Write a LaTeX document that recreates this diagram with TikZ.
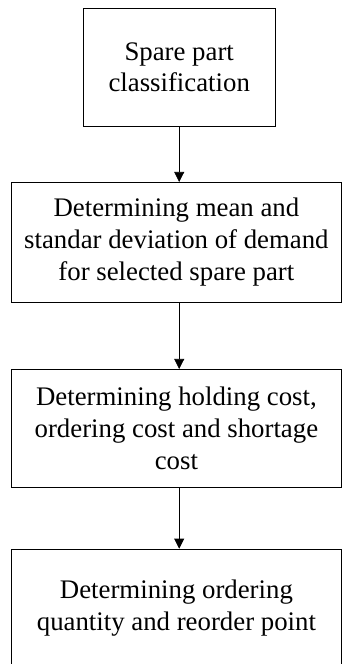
\documentclass[tikz,border=0pt]{standalone}
\usepackage{fontspec}
\setmainfont{Liberation Serif}
\usetikzlibrary{arrows.meta}
\tikzset{
  stepbox/.style={draw, line width=0.7pt, minimum height=119pt, align=center,
    inner sep=0pt, font=\fontsize{26.8}{32}\selectfont},
  flow/.style={line width=0.7pt, -{Triangle[length=10pt,width=10pt]}}
}
\begin{document}
\begin{tikzpicture}[x=1pt,y=1pt]
            \useasboundingbox (0,0) rectangle (342,-664);
            \clip (0,0) rectangle (342,-664);
            \node[stepbox, minimum width=191.7pt, minimum height=118.4pt, font=\fontsize{26.8}{30.7}\selectfont] (classify) at (179.2,-67.5) {Spare part\\classification};
            \node[stepbox, minimum width=329.8pt, minimum height=120pt] (demand) at (176.4,-242.3) {Determining mean and\\standar deviation of demand\\for selected spare part};
            \node[stepbox, minimum width=329.8pt, minimum height=118pt] (cost) at (176.4,-428.3) {Determining holding cost,\\ordering cost and shortage\\cost};
            \node[stepbox, minimum width=329.8pt] (order) at (176.4,-608.5) {Determining ordering\\quantity and reorder point};

            \path[flow] (classify.south) edge (classify.south |- demand.north);
            \path[flow] (classify.south |- demand.south) edge (classify.south |- cost.north);
            \path[flow] (classify.south |- cost.south) edge (classify.south |- order.north);
        \end{tikzpicture}
\end{document}
